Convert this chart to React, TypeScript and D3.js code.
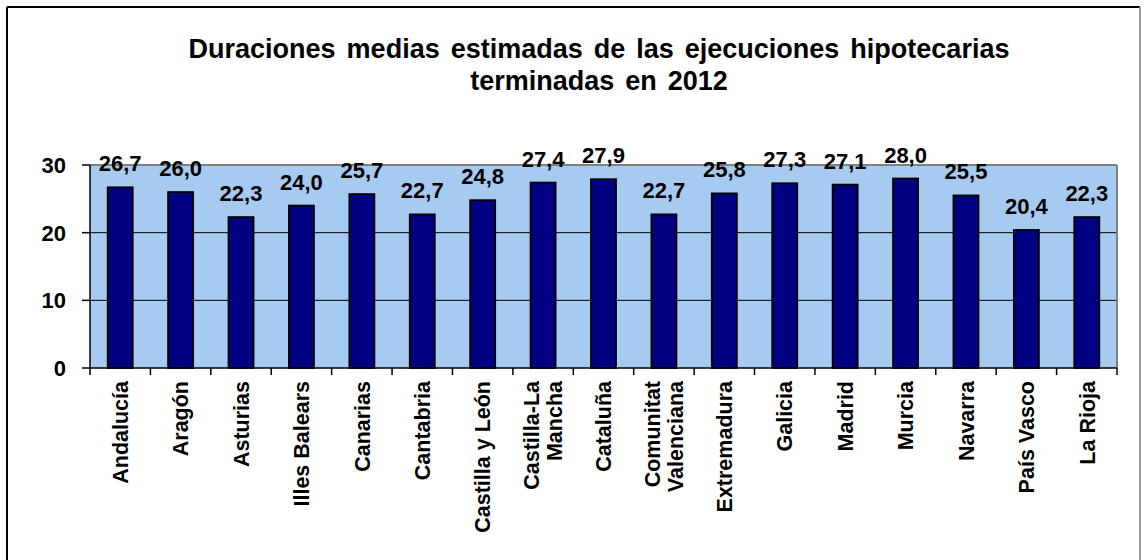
import React from "react";
import * as d3 from "d3";

const titleLines = ["Duraciones medias estimadas de las ejecuciones hipotecarias", "terminadas en 2012"];
const categories = [
  "Andalucía", "Aragón", "Asturias", "Illes Balears", "Canarias", "Cantabria",
  "Castilla y León", "Castilla-La\nMancha", "Cataluña", "Comunitat\nValenciana",
  "Extremadura", "Galicia", "Madrid", "Murcia", "Navarra", "País Vasco", "La Rioja",
];
const values = [26.7, 26.0, 22.3, 24.0, 25.7, 22.7, 24.8, 27.4, 27.9, 22.7, 25.8, 27.3, 27.1, 28.0, 25.5, 20.4, 22.3];
const yTicks = [0, 10, 20, 30];

const W = 1144;
const H = 560;
const left = 90, right = 1117, top = 165, bottom = 368;
const FONT = "'Liberation Sans', Arial, sans-serif";

export default function App() {
  const x = d3.scaleBand<string>().domain(categories).range([left, right]).paddingInner(0.586).paddingOuter(0.293);
  const y = d3.scaleLinear().domain([0, 30]).range([bottom, top]);
  const step = x.step();
  const fmt = (v: number) => d3.format(".1f")(v).replace(".", ",");
  const boundaries = categories.map((c) => (x(c) as number) - (step * x.paddingInner()) / 2);
  boundaries.push(right);

  return (
    <svg width={W} height={H} style={{ position: "absolute", left: 0, top: 0, background: "#fff" }} fontFamily={FONT}>
      {/* outer frame */}
      <line x1={7} y1={7} x2={1140} y2={7} stroke="#000" strokeWidth={2} />
      <line x1={7} y1={7} x2={7} y2={H} stroke="#000" strokeWidth={2} />
      <line x1={1140} y1={7} x2={1140} y2={H} stroke="#9a9a9a" strokeWidth={2} />

      {/* title */}
      {titleLines.map((t, i) => (
        <text key={i} x={599} y={58 + i * 32} textAnchor="middle" fontSize={27} fontWeight="bold" fill="#000" wordSpacing={3.5}>
          {t}
        </text>
      ))}

      {/* plot area */}
      <rect x={left} y={top} width={right - left} height={bottom - top} fill="#A6CAF0" />
      {yTicks.filter((t) => t > 0 && t < 30).map((t) => (
        <line key={t} x1={left} x2={right} y1={y(t)} y2={y(t)} stroke="#000" strokeWidth={1} />
      ))}
      <line x1={left} x2={right} y1={y(30)} y2={y(30)} stroke="#808080" strokeWidth={2} />
      <line x1={right} x2={right} y1={y(30)} y2={bottom} stroke="#808080" strokeWidth={2} />

      {/* bars */}
      {categories.map((c, i) => (
        <rect key={c} x={x(c)} y={y(values[i])} width={x.bandwidth()} height={bottom - y(values[i])} fill="#000080" stroke="#000" strokeWidth={1.8} />
      ))}

      {/* value labels */}
      {categories.map((c, i) => (
        <text key={c} x={(x(c) as number) + x.bandwidth() / 2} y={y(values[i]) - 16} textAnchor="middle" fontSize={22} fontWeight="bold" fill="#000">
          {fmt(values[i])}
        </text>
      ))}

      {/* y axis */}
      <line x1={left} x2={left} y1={top} y2={bottom} stroke="#000" strokeWidth={1.5} />
      {yTicks.map((t) => (
        <g key={t}>
          <line x1={left - 8} x2={left} y1={y(t)} y2={y(t)} stroke="#000" strokeWidth={1.5} />
          <text x={66} y={y(t)} dy="0.36em" textAnchor="end" fontSize={22} fontWeight="bold" fill="#000">
            {t}
          </text>
        </g>
      ))}

      {/* x axis */}
      <line x1={left} x2={right} y1={bottom} y2={bottom} stroke="#000" strokeWidth={1.5} />
      {boundaries.map((b, i) => (
        <line key={i} x1={b} x2={b} y1={bottom} y2={bottom + 7} stroke="#000" strokeWidth={1.5} />
      ))}
      {categories.map((c) => {
        const lines = c.split("\n");
        const cx = (x(c) as number) + x.bandwidth() / 2;
        return (
          <text key={c} transform={`translate(${cx},381) rotate(-90)`} textAnchor="end" fontSize={21.5} fontWeight="bold" fill="#000">
            {lines.map((l, j) => (
              <tspan key={j} x={0} y={(j - (lines.length - 1) / 2) * 23} dy="0.36em">
                {l}
              </tspan>
            ))}
          </text>
        );
      })}
    </svg>
  );
}
